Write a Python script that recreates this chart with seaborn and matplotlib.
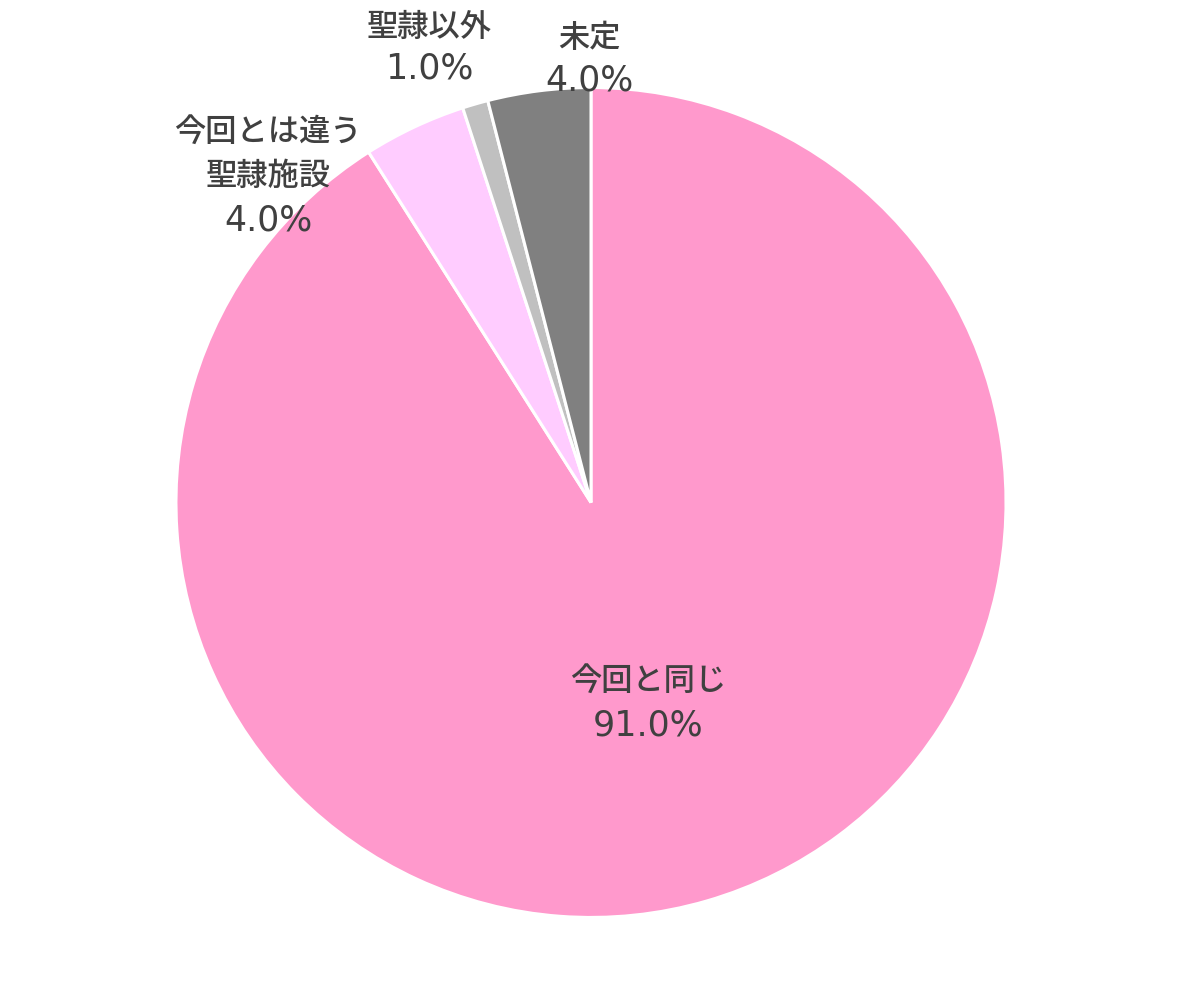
import matplotlib
matplotlib.use("Agg")
import matplotlib.pyplot as plt
import seaborn as sns

# Data
categories = ["今回と同じ", "今回とは違う\n聖隷施設", "聖隷以外", "未定"]
values = [91.0, 4.0, 1.0, 4.0]
colors = ["#FF99CC", "#FFCCFF", "#C0C0C0", "#808080"]

sns.set_theme(style="white")
plt.rcParams['font.family'] = ['Noto Sans CJK JP', 'DejaVu Sans']

fig = plt.figure(figsize=(11.82, 10.05), dpi=100)
ax = fig.add_axes([0, 0, 1, 1])

wedges, _ = ax.pie(values, colors=colors, startangle=90, counterclock=False,
                   wedgeprops=dict(edgecolor="white", linewidth=2.2))

# label layout in pie-radius units: x, y of first name line, y of percentage
label_pos = [(0.137, -0.429, -0.537),
             (-0.778, 0.894, 0.680),
             (-0.390, 1.145, 1.046),
             (-0.004, 1.120, 1.017)]
line_step = 0.108
text_color = "#404040"

for cat, val, (x, y_name, y_pct) in zip(categories, values, label_pos):
    for i, line in enumerate(cat.split("\n")):
        ax.text(x, y_name - i * line_step, line, ha="center", va="center",
                fontsize=22.5, fontweight="medium", color=text_color)
    ax.text(x, y_pct, f"{val:.1f}%", ha="center", va="center", fontsize=25,
            family="DejaVu Sans", color=text_color)

ax.set_xlim(-1.424, 1.424)
ax.set_ylim(-1.211, 1.211)
ax.set_aspect("equal", adjustable="datalim")
ax.axis("off")

fig.savefig("out.png", dpi=100, facecolor="white")
